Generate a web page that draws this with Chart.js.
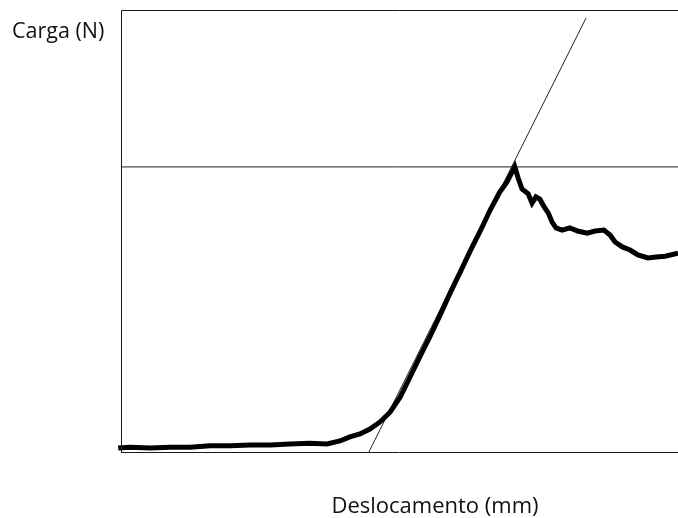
<!DOCTYPE html>
<html>
<head>
<meta charset="utf-8">
<script src="https://cdn.jsdelivr.net/npm/chart.js@4/dist/chart.umd.min.js"></script>
<style>
  html, body { margin: 0; padding: 0; background: #fff; }
  #wrap { position: relative; width: 678px; height: 518px; }
  .label { position: absolute; font-family: "Open Sans", sans-serif; line-height: normal; color: #111; white-space: nowrap; }
  #yTitle { left: 12px; top: 15px; font-size: 21.5px; }
  #xTitle { left: 435px; top: 489px; font-size: 22px; transform: translateX(-50%); }
</style>
</head>
<body>
<div id="wrap">
  <canvas id="chart" width="678" height="518"></canvas>
  <div class="label" id="yTitle">Carga (N)</div>
  <div class="label" id="xTitle">Deslocamento (mm)</div>
</div>
<script>
// load-displacement curve
const displacement = [-0.05, 0.16, 0.52, 0.88, 1.24, 1.60, 1.96, 2.32, 2.68, 3.03, 3.39, 3.70, 3.93, 4.11,
    4.29, 4.47, 4.65, 4.83, 5.01, 5.19, 5.37, 5.55, 5.73, 5.91, 6.09, 6.27, 6.45, 6.63, 6.80, 6.93,
    7.02, 7.07, 7.13, 7.20, 7.31, 7.38, 7.45, 7.52, 7.60, 7.67, 7.74, 7.81, 7.92, 8.06, 8.20, 8.37,
    8.51, 8.67, 8.78, 8.87, 9.00, 9.14, 9.28, 9.46, 9.61, 9.77, 10.0];
const load = [9, 11, 9, 11, 11, 14, 14, 16, 16, 18, 20, 18, 25, 34,
    41, 52, 68, 90, 124, 170, 217, 262, 310, 360, 407, 455, 500, 548, 588, 611,
    633, 645, 620, 595, 584, 563, 577, 572, 554, 541, 520, 507, 502, 507, 500, 495,
    500, 502, 491, 475, 464, 457, 446, 439, 441, 443, 450];

// construction lines: tangent to the linear part and the peak load level
const tangentX = [4.45, 8.35];
const tangentY = [0, 982];
const peakLoad = 645;

const X_MAX = 10;
const Y_MAX = 1000;

function toPoints(xs, ys) {
    return xs.map((x, i) => ({ x: x, y: ys[i] }));
}

// left axis, top border and bottom axis around the plot area
const frameLines = {
    id: "frameLines",
    afterDatasetsDraw(chart) {
        const { ctx, chartArea: a } = chart;
        ctx.save();
        ctx.strokeStyle = "#1a1a1a";
        ctx.lineWidth = 1;
        ctx.beginPath();
        ctx.moveTo(a.left + 0.5, a.bottom);
        ctx.lineTo(a.left + 0.5, a.top + 0.5);
        ctx.lineTo(a.right, a.top + 0.5);
        ctx.moveTo(a.left, a.bottom + 0.5);
        ctx.lineTo(a.right, a.bottom + 0.5);
        ctx.stroke();
        ctx.restore();
    },
};

new Chart(document.getElementById("chart"), {
    type: "scatter",
    data: {
        datasets: [
            {
                label: "Carga",
                data: toPoints(displacement, load),
                showLine: true,
                borderColor: "#000",
                borderWidth: 5,
                pointRadius: 0,
                tension: 0,
                clip: false,
            },
            {
                label: "Tangente",
                data: toPoints(tangentX, tangentY),
                showLine: true,
                borderColor: "#222",
                borderWidth: 1,
                pointRadius: 0,
            },
            {
                label: "Carga máxima",
                data: toPoints([0, X_MAX], [peakLoad, peakLoad]),
                showLine: true,
                borderColor: "#222",
                borderWidth: 1,
                pointRadius: 0,
            },
        ],
    },
    options: {
        responsive: false,
        animation: false,
        layout: { padding: { left: 121, right: 0, top: 10, bottom: 66 } },
        plugins: { legend: { display: false }, tooltip: { enabled: false } },
        scales: {
            x: { type: "linear", min: 0, max: X_MAX, display: false },
            y: { type: "linear", min: 0, max: Y_MAX, display: false },
        },
    },
    plugins: [frameLines],
});
</script>
</body>
</html>
